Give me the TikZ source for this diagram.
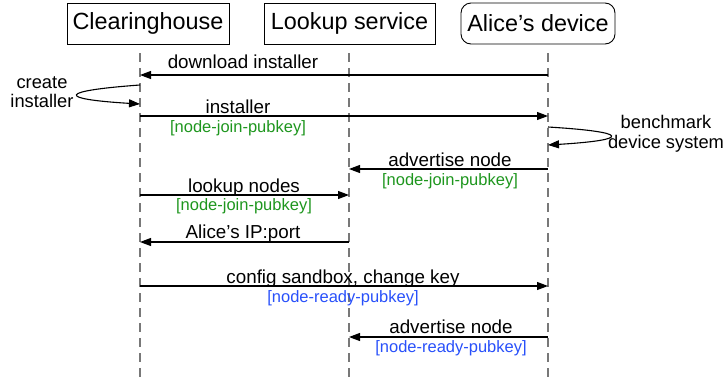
\documentclass[tikz,border=0pt]{standalone}
\usepackage{fontspec}
\setmainfont{Liberation Sans}
\usetikzlibrary{arrows.meta}
\definecolor{tagg}{RGB}{30,150,30}
\definecolor{tagb}{RGB}{40,80,250}
\definecolor{lifec}{RGB}{120,120,120}
\begin{document}
\begin{tikzpicture}[x=1pt,y=-1pt,
  actor/.style={draw, line width=0.9pt, minimum height=41pt, inner sep=0pt, font=\fontsize{23.4}{27}\selectfont},
  lifeline/.style={draw=lifec, line width=1.8pt, dash pattern=on 9pt off 6pt},
  msg/.style={-{Triangle[length=11pt,width=8pt]}, line width=1.1pt},
  lbl/.style={anchor=base, inner sep=0pt, font=\fontsize{18.8}{21}\selectfont},
  tagj/.style={anchor=base, inner sep=0pt, text=tagg, font=\fontsize{16.5}{19}\selectfont},
  tagr/.style={anchor=base, inner sep=0pt, text=tagb, font=\fontsize{16.5}{19}\selectfont},
  note/.style={align=center, inner sep=0pt, font=\fontsize{18.3}{19.5}\selectfont}]
\useasboundingbox (0,0) rectangle (725,381);
% actors
\node[actor, minimum width=162pt] (ch) at (148,23.5) {Clearinghouse};
\node[actor, minimum width=171pt] (ls) at (349.5,23.5) {Lookup service};
\node[actor, minimum width=154pt, rounded corners=10pt] (ad) at (538,23.5) {Alice’s device};
% lifelines
\coordinate (chT) at (140,53); \coordinate (chB) at (140,381);
\coordinate (lsT) at (349,53); \coordinate (lsB) at (349,381);
\coordinate (adT) at (548,53); \coordinate (adB) at (548,381);
\draw[lifeline] (chT) -- (chB);
\draw[lifeline] (lsT) -- (lsB);
\draw[lifeline] (adT) -- (adB);
% points on lifelines
\coordinate (a1) at (548,75);  \coordinate (c1) at (140,75);
\coordinate (c2s) at (140,85); \coordinate (c2e) at (140,104);
\coordinate (c3) at (140,116); \coordinate (a3) at (548,116);
\coordinate (a4s) at (548,127); \coordinate (a4e) at (548,145);
\coordinate (a5) at (548,169); \coordinate (l5) at (349,169);
\coordinate (c6) at (140,195); \coordinate (l6) at (349,195);
\coordinate (l7) at (349,242); \coordinate (c7) at (140,242);
\coordinate (c8) at (140,286); \coordinate (a8) at (548,286);
\coordinate (a9) at (548,337); \coordinate (l9) at (349,337);
% messages
\draw[msg] (a1) -- (c1);
\node[lbl] (m1) at (243,68) {download installer};
\draw[msg] (c2s) .. controls (57,91) and (57,99) .. (c2e);
\node[note] (n2) at (42,92) {create\\installer};
\draw[msg] (c3) -- (a3);
\node[lbl] (m3) at (238,113) {installer};
\node[tagj] (t3) at (238,132) {[node-join-pubkey]};
\draw[msg] (a4s) .. controls (631,132) and (631,140) .. (a4e);
\node[note] (n4) at (666,134) {benchmark\\device system};
\draw[msg] (a5) -- (l5);
\node[lbl] (m5) at (450,166) {advertise node};
\node[tagj] (t5) at (450,185) {[node-join-pubkey]};
\draw[msg] (c6) -- (l6);
\node[lbl] (m6) at (244,192) {lookup nodes};
\node[tagj] (t6) at (244,210) {[node-join-pubkey]};
\draw[msg] (l7) -- (c7);
\node[lbl] (m7) at (243,238) {Alice’s IP:port};
\draw[msg] (c8) -- (a8);
\node[lbl] (m8) at (343,283) {config sandbox, change key};
\node[tagr] (t8) at (343,302) {[node-ready-pubkey]};
\draw[msg] (a9) -- (l9);
\node[lbl] (m9) at (451,333) {advertise node};
\node[tagr] (t9) at (451,352) {[node-ready-pubkey]};
\end{tikzpicture}
\end{document}
